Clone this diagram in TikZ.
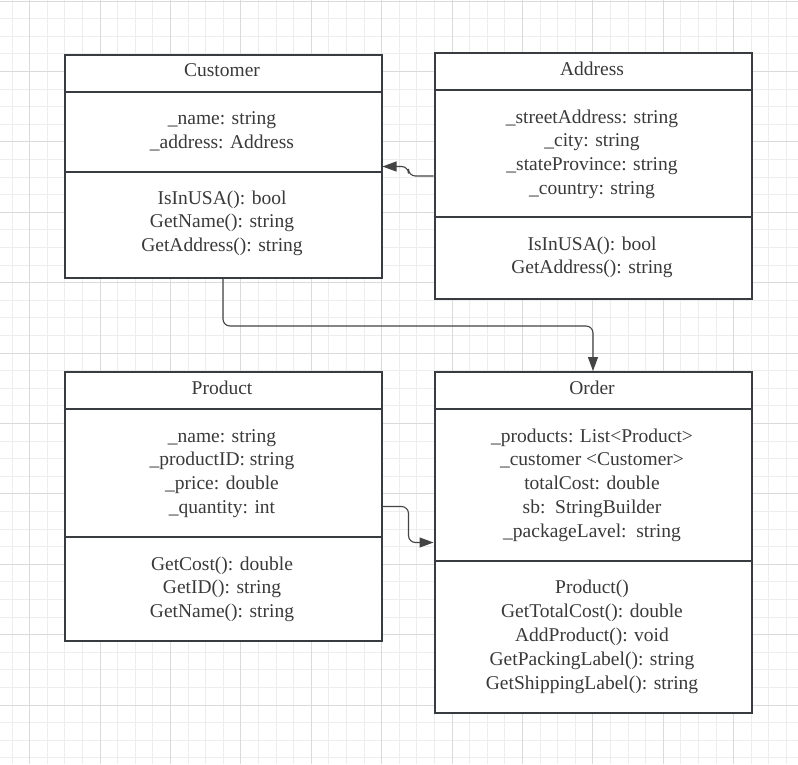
\documentclass[tikz,border=0pt]{standalone}
\usepackage{fontspec}
\setmainfont{Liberation Serif}
\usetikzlibrary{arrows.meta}
\definecolor{gridminor}{HTML}{EDEDED}
\definecolor{gridmajor}{HTML}{DADADA}
\definecolor{boxline}{HTML}{383B40}
\definecolor{txtcol}{HTML}{3A3A3A}
\definecolor{conncol}{HTML}{444444}
\tikzset{
  classbox/.style={draw=boxline, line width=2pt, fill=white, anchor=north west, inner sep=0pt},
  sepline/.style={draw=boxline, line width=2pt},
  txt/.style={anchor=base, inner sep=0pt, text=txtcol, font=\fontsize{19.5}{23.7}\selectfont},
  conn/.style={draw=conncol, line width=1.1pt, rounded corners=7pt, -{Triangle[length=14pt,width=10pt]}},
}
\begin{document}
\begin{tikzpicture}[x=1pt,y=-1pt]
\useasboundingbox (0,0) rectangle (798,764);
\fill[white] (0,0) rectangle (798,764);
% grid
\foreach \k in {0,...,45} {
  \draw[gridminor, line width=1pt] (12+17.6*\k,0) -- (12+17.6*\k,764);
  \draw[gridminor, line width=1pt] (0,1+17.6*\k) -- (798,1+17.6*\k);
}
\foreach \k in {0,...,11} {
  \draw[gridmajor, line width=1pt] (29.6+70.4*\k,0) -- (29.6+70.4*\k,764);
  \draw[gridmajor, line width=1pt] (0,1+70.4*\k) -- (798,1+70.4*\k);
}
% boxes
\node[classbox, minimum width=317pt, minimum height=223pt] (customer) at (63.5,54) {};
\node[classbox, minimum width=317pt, minimum height=246pt] (address) at (433.5,52) {};
\node[classbox, minimum width=317pt, minimum height=269pt] (product) at (63.5,371) {};
\node[classbox, minimum width=317pt, minimum height=341pt] (order) at (433.5,371) {};
% separators
\draw[sepline] (customer.west |- 0,92) -- (customer.east |- 0,92);
\draw[sepline] (customer.west |- 0,172) -- (customer.east |- 0,172);
\draw[sepline] (address.west |- 0,90) -- (address.east |- 0,90);
\draw[sepline] (address.west |- 0,217) -- (address.east |- 0,217);
\draw[sepline] (product.west |- 0,409) -- (product.east |- 0,409);
\draw[sepline] (product.west |- 0,537) -- (product.east |- 0,537);
\draw[sepline] (order.west |- 0,409) -- (order.east |- 0,409);
\draw[sepline] (order.west |- 0,561) -- (order.east |- 0,561);
% titles
\node[txt] (customer-t) at (222,76) {Customer};
\node[txt] (address-t) at (592,75) {Address};
\node[txt] (product-t) at (222,394) {Product};
\node[txt] (order-t) at (592,394) {Order};
% Customer
\foreach \t [count=\i] in {\_name: string, \_address: Address}
  \node[txt] (customer-a\i) at (222,124.5+23.6*\i-23.6) {\t};
\foreach \t [count=\i] in {IsInUSA(): bool, GetName(): string, GetAddress(): string}
  \node[txt] (customer-m\i) at (222,204+23.8*\i-23.8) {\t};
% Address
\foreach \t [count=\i] in {\_streetAddress: string, \_city: string, \_stateProvince: string, \_country: string}
  \node[txt] (address-a\i) at (592,123+23.7*\i-23.7) {\t};
\foreach \t [count=\i] in {IsInUSA(): bool, GetAddress(): string}
  \node[txt] (address-m\i) at (592,250+23.8*\i-23.8) {\t};
% Product
\foreach \t [count=\i] in {\_name: string, \_productID: string, \_price: double, \_quantity: int}
  \node[txt] (product-a\i) at (222,442+23.7*\i-23.7) {\t};
\foreach \t [count=\i] in {GetCost(): double, GetID(): string, GetName(): string}
  \node[txt] (product-m\i) at (222,570+23.6*\i-23.6) {\t};
% Order
\foreach \t [count=\i] in {\_products: List<Product>, \_customer <Customer>, totalCost: double, sb:\ \ StringBuilder, \_packageLavel:\ \ string}
  \node[txt] (order-a\i) at (592,442+23.75*\i-23.75) {\t};
\foreach \t [count=\i] in {Product(), GetTotalCost(): double, AddProduct(): void, GetPackingLabel(): string, GetShippingLabel(): string}
  \node[txt] (order-m\i) at (592,593+24*\i-24) {\t};
% connectors
\draw[conn] (address.west) -- ++(-25,0) |- (customer.east);
\draw[conn] (customer.south) -- ++(0,47) -| (order.north);
\draw[conn] (product.east) -- ++(26,0) |- (order.west);
\end{tikzpicture}
\end{document}
